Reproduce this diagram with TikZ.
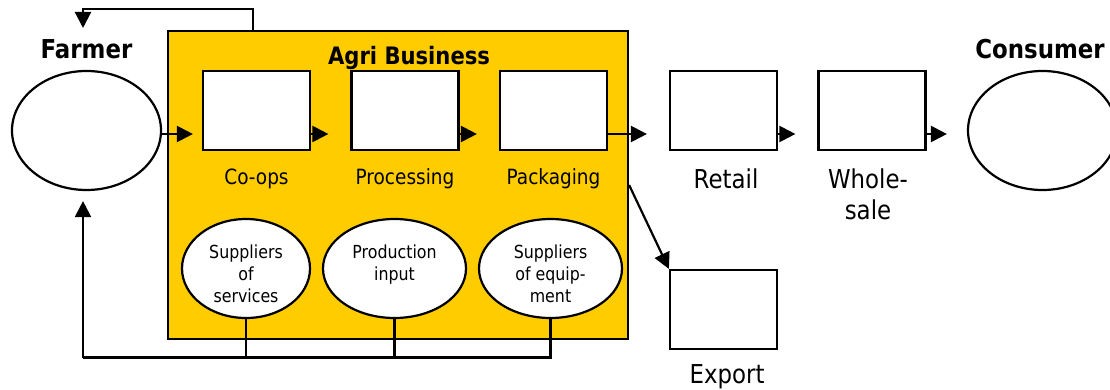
\documentclass[tikz,border=0pt]{standalone}
\usepackage{fontspec}
\setmainfont{DejaVu Sans}[FakeStretch=0.88]
\usetikzlibrary{positioning,arrows.meta,shapes.geometric}
\definecolor{agriyellow}{HTML}{FFCC00}

\begin{document}
\begin{tikzpicture}[x=1pt,y=-1pt,line width=2.2pt,>={Triangle[length=16pt,width=16pt]}]
    \tikzstyle{stage}=[draw,fill=white,minimum width=107pt,minimum height=79pt,inner sep=0pt]
    \tikzstyle{actor}=[draw,fill=white,ellipse,minimum width=149pt,minimum height=119pt,inner sep=0pt]
    \tikzstyle{supplier}=[draw,fill=white,ellipse,minimum width=143pt,minimum height=99pt,inner sep=0pt]
    \tikzstyle{supplier text}=[align=center,inner sep=0pt,font=\fontsize{18}{22}\selectfont]
    \tikzstyle{caption}=[anchor=base,align=center,font=\fontsize{21}{31}\selectfont]
    \tikzstyle{outer caption}=[caption,font=\fontsize{26}{31}\selectfont]
    \tikzstyle{title}=[anchor=base,font=\fontsize{26}{30}\selectfont\bfseries]
    \tikzstyle{flow}=[->,shorten >=22pt]

    \useasboundingbox (0,0) rectangle (1110,390);

    % The agri business block and its title
    \node[draw,fill=agriyellow,minimum width=460pt,minimum height=308pt,inner sep=0pt] (AB) at (398,185) {};
    \node[title,font=\fontsize{24}{28}\selectfont\bfseries] (T-AB) at (409,65) {Agri Business};

    % Farmer and consumer
    \node[actor] (Farmer) at (86.5,130.5) {};
    \node[title] (T-F) at (86.5,59) {Farmer};
    \node[actor] (Consumer) at (1042.5,130.5) {};
    \node[title] (T-C) at (1040,59) {Consumer};

    % Draw the stages of the chain with their captions
    \foreach \name / \x / \text in {C/256.5/Co-ops, P/405/Processing, K/553.5/Packaging}
    {
        \node[stage] (S-\name) at (\x,110.5) {};
        \node[caption] (L-\name) at (\x,185) {\text};
    }
    \node[stage] (S-R) at (723.5,110.5) {};
    \node[outer caption] (L-R) at (726,189) {Retail};
    \node[stage] (S-W) at (872,110.5) {};
    \node[outer caption] (L-W) at (868,219) {Whole-\\sale};
    \node[stage] (S-E) at (723.5,309.5) {};
    \node[outer caption] (L-E) at (727,383) {Export};

    % Suppliers inside the block
    \node[supplier,minimum width=128pt] (U-1) at (246,268.5) {};
    \node[supplier] (U-2) at (394.5,268.5) {};
    \node[supplier] (U-3) at (550.5,268.5) {};
    \node[supplier text] at ([yshift=-5pt]U-1) {Suppliers\\of\\services};
    \node[supplier text] at ([yshift=-5pt]U-2) {Production\\input\\\phantom{services}};
    \node[supplier text] at ([yshift=-5pt]U-3) {Suppliers\\of equip-\\ment};

    % Connect the stages along the chain
    \draw[flow,shorten >=9pt] ([yshift=-3.5pt]Farmer.east) -- ([yshift=-23.5pt]S-C.west);
    \draw[flow] ([yshift=-23.5pt]S-C.east) -- ([yshift=-23.5pt]S-P.west);
    \draw[flow] ([yshift=-23.5pt]S-P.east) -- ([yshift=-23.5pt]S-K.west);
    \draw[flow] ([yshift=-23.5pt]S-K.east) -- ([yshift=-23.5pt]S-R.west);
    \draw[flow] ([yshift=-23.5pt]S-R.east) -- ([yshift=-23.5pt]S-W.west);
    \draw[flow,shorten >=20pt] ([yshift=-23.5pt]S-W.east) -- ([yshift=-3.5pt]Consumer.west);
    \draw[->] (AB.east) -- (S-E.north west);

    % Feedback to the farmer
    \coordinate (fb) at (83,357.5);
    \draw (U-3.south) |- (fb);
    \foreach \name in {1,2}
        \draw (U-\name.south) -- (U-\name.south |- fb);
    \draw[->,shorten >=10pt] (fb) -- (fb |- Farmer.south);

    \coordinate (up) at (253,9);
    \coordinate (down) at (83,28);
    \draw[->] (AB.north -| up) -- (up) -| (down);
\end{tikzpicture}
\end{document}
